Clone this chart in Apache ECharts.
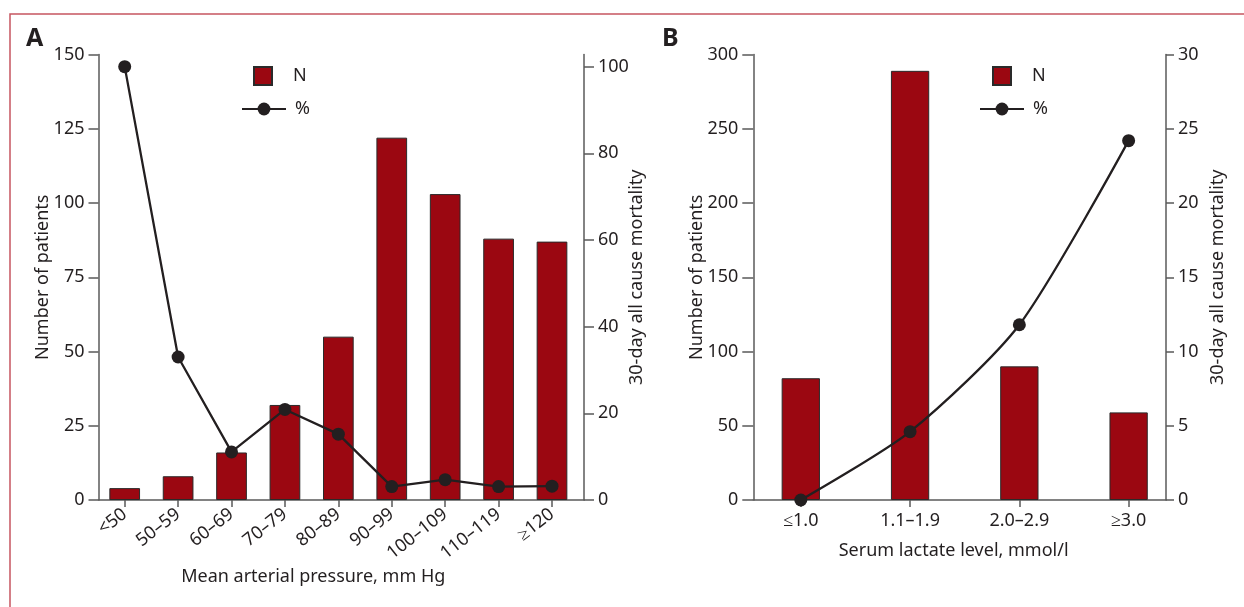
<!DOCTYPE html>
<html><head><meta charset="utf-8">
<script src="https://cdn.jsdelivr.net/npm/echarts@6/dist/echarts.min.js"></script>
<style>html,body{margin:0;padding:0;background:#fff}#c{width:1244px;height:607px}</style>
</head><body><div id="c"></div>
<script>
// Panel A: mean arterial pressure
const mapCategories = ['<50', '50–59', '60–69', '70–79', '80–89', '90–99', '100–109', '110–119', '≥120'];
const mapN = [4, 8, 16, 32, 55, 122, 103, 88, 87];
const mapPct = [100, 33, 11.1, 20.9, 15.2, 3.1, 4.7, 3.1, 3.2];
const mapCountTicks = [0, 25, 50, 75, 100, 125, 150];
const mapPctTicks = [0, 20, 40, 60, 80, 100];
// Panel B: serum lactate
const lacCategories = ['≤1.0', '1.1–1.9', '2.0–2.9', '≥3.0'];
const lacN = [82, 289, 90, 59];
const lacPct = [0, 4.6, 11.8, 24.2];
const lacCountTicks = [0, 50, 100, 150, 200, 250, 300];
const lacPctTicks = [0, 5, 10, 15, 20, 25, 30];

const FONT = 'Noto Sans';
const TXT = '#231f20';
const AX = '#5a5a5a';
const BAR = '#9b0711';

const idx = arr => arr.map((_, i) => i);
const pairs = vals => vals.map((v, i) => [i, v]);

function yAx(grid, pos, ticks, max, name, tickLen, gap) {
  return {
    type: 'value', gridIndex: grid, position: pos, min: 0, max: max,
    axisLine: {show: true, onZero: false, lineStyle: {color: AX, width: 1.5}},
    axisTick: {show: true, length: tickLen, customValues: ticks, lineStyle: {color: AX, width: 1.5}},
    axisLabel: {customValues: ticks, margin: tickLen + 4, fontFamily: FONT, fontSize: 18, color: TXT},
    splitLine: {show: false},
    name: name, nameLocation: 'middle', nameGap: gap, nameMoveOverlap: false,
    nameTextStyle: {fontFamily: FONT, fontSize: 18, color: TXT}
  };
}

function xAx(grid, cats, min, max, rotate, margin, name, gap, pad) {
  return {
    type: 'value', gridIndex: grid, min: min, max: max,
    axisLine: {show: true, onZero: false, lineStyle: {color: AX, width: 1.5}},
    axisTick: {show: true, length: 7, customValues: idx(cats), lineStyle: {color: AX, width: 1.5}},
    axisLabel: {customValues: idx(cats), formatter: v => cats[Math.round(v)], rotate: rotate, margin: margin,
      fontFamily: FONT, fontSize: 18, color: TXT},
    splitLine: {show: false},
    name: name, nameLocation: 'middle', nameGap: gap, nameMoveOverlap: false,
    nameTextStyle: {fontFamily: FONT, fontSize: 18, color: TXT, padding: pad}
  };
}

const legendText = pad => ({fontFamily: FONT, fontSize: 18, color: TXT, padding: [0, 0, 0, pad]});

const chart = echarts.init(document.getElementById('c'), null, {renderer: 'canvas'});
chart.setOption({
  backgroundColor: '#fff',
  animation: false,
  graphic: [{type: 'rect', shape: {x: 10, y: 14, width: 1400, height: 800},
    style: {fill: 'none', stroke: '#c65560', lineWidth: 1.5}, silent: true}],
  title: [
    {text: 'A', left: 26, top: 26, padding: 0, textStyle: {fontFamily: FONT, fontWeight: 'bold', fontSize: 25, color: TXT}},
    {text: 'B', left: 662, top: 26, padding: 0, textStyle: {fontFamily: FONT, fontWeight: 'bold', fontSize: 25, color: TXT}}
  ],
  legend: [
    {data: [{name: 'N', icon: 'rect'}], left: 253, top: 66, padding: 0, itemWidth: 18, itemHeight: 18, selectedMode: false,
      textStyle: legendText(16)},
    {data: ['%'], left: 241, top: 100, padding: 0, itemWidth: 44, itemHeight: 16, selectedMode: false,
      textStyle: legendText(4)},
    {data: [{name: 'N', icon: 'rect'}], left: 992, top: 66, padding: 0, itemWidth: 18, itemHeight: 18, selectedMode: false,
      textStyle: legendText(16)},
    {data: ['%'], left: 979, top: 100, padding: 0, itemWidth: 44, itemHeight: 16, selectedMode: false,
      textStyle: legendText(4)}
  ],
  grid: [
    {left: 98.5, top: 54.5, width: 485.5, height: 445.5},
    {left: 753.3, top: 54.5, width: 412.7, height: 445.5}
  ],
  xAxis: [
    xAx(0, mapCategories, -0.4905, 8.599, 38, 12, 'Mean arterial pressure, mm Hg', 68, [0, 56, 0, 0]),
    xAx(1, lacCategories, -0.4347, 3.342, 0, 12, 'Serum lactate level, mmol/l', 42, [0, 12, 0, 0])
  ],
  yAxis: [
    yAx(0, 'left', mapCountTicks, 150, 'Number of patients', 10, 47),
    yAx(0, 'right', mapPctTicks, 102.8, '30-day all cause mortality', 10, 44),
    yAx(1, 'left', lacCountTicks, 300, 'Number of patients', 11, 47),
    yAx(1, 'right', lacPctTicks, 30, '30-day all cause mortality', 8, 43)
  ],
  series: [
    {name: 'N', type: 'bar', xAxisIndex: 0, yAxisIndex: 0, data: pairs(mapN), barWidth: 30.7,
      itemStyle: {color: BAR, borderColor: '#2a2a2a', borderWidth: 1}},
    {name: '%', type: 'line', xAxisIndex: 0, yAxisIndex: 1, data: pairs(mapPct), z: 5,
      symbol: 'circle', symbolSize: 13, lineStyle: {color: TXT, width: 2.3}, itemStyle: {color: TXT}},
    {name: 'N', type: 'bar', xAxisIndex: 1, yAxisIndex: 2, data: pairs(lacN), barWidth: 38.3,
      itemStyle: {color: BAR, borderColor: '#2a2a2a', borderWidth: 1}},
    {name: '%', type: 'line', xAxisIndex: 1, yAxisIndex: 3, data: pairs(lacPct), z: 5, smooth: 0.25,
      symbol: 'circle', symbolSize: 13, lineStyle: {color: TXT, width: 2.3}, itemStyle: {color: TXT}}
  ]
});
</script></body></html>
